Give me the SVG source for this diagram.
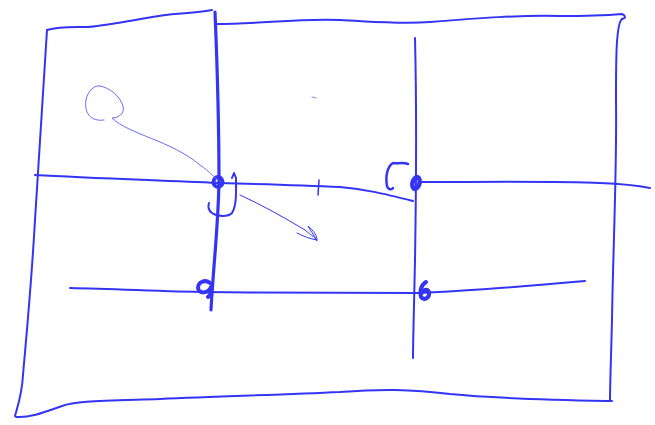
<svg xmlns="http://www.w3.org/2000/svg" width="655" height="425" viewBox="0 0 655 425">
<style>
.s{fill:none;stroke:#3434f4;stroke-linecap:round;stroke-linejoin:round}
.t{stroke-width:2}
.b{stroke-width:3.2}
.h{stroke-width:1;stroke:#6a6af6}
</style>
<rect width="655" height="425" fill="#fff"/>
<g id="frame">
<path class="s t" d="M47,30 C60,26 75,27 88,27 C120,24 150,16 175,14 C190,13 203,12 212,10"/>
<path class="s t" d="M216,24 C260,24 300,18 340,20 C380,22 400,24 430,22 C480,18 520,15 560,16 C590,16 610,15 622,14 C626,16 626,18 622,19"/>
<path class="s t" d="M622,19 C616,24 616,60 616,100 C617,170 613,250 612,320 C611,360 610,385 610,400"/>
<path class="s t" d="M612,401 C560,400 500,399 450,394 C410,389 380,389 340,392 C280,395 220,396 160,399 C100,401 75,401 62,406 C45,412 30,418 16,417"/>
<path class="s t" d="M47,30 C44,80 40,150 35,220 C31,290 26,340 23,375 C22,395 17,408 15,416"/>
</g>
<g id="grid">
<path class="s b" d="M215,12 C217,60 219,120 219,182 C218,230 213,270 211,310"/>
<path class="s t" d="M415,38 C417,120 416,200 415,260 C414,310 413,340 413,358"/>
<path class="s t" d="M35,175 C90,178 150,180 218,183 C260,184 300,185 340,187 C365,189 385,194 413,201"/>
<path class="s t" d="M420,182 C480,182 560,181 600,183 C625,184 640,186 650,188"/>
<path class="s t" d="M70,288 C120,289 170,292 205,292 C280,293 360,293 420,293 C470,291 540,285 585,281"/>
<path class="s" stroke-width="1.5" d="M319,180 L318,195"/>
</g>
<g id="marks">
<ellipse class="s" stroke-width="4" cx="218" cy="182" rx="4.5" ry="5"/>
<path class="s t" d="M232,178 L234,173 L236,178 C236,190 237,205 232,213 C228,217 218,217 212,213 C208,210 208,206 209,203"/>
<ellipse class="s" stroke-width="4.5" cx="416" cy="183" rx="3.5" ry="6" transform="rotate(15 416 183)"/>
<path class="s" stroke-width="2.5" d="M408,164 C403,162 397,164 393,163 C388,166 385,175 387,186 C388,190 392,190 393,188"/>
<path class="s" stroke-width="4" d="M210,283 C205,279 198,282 198,288 C199,294 208,294 211,287 C212,290 211,295 208,297"/>
<path class="s" stroke-width="4" d="M426,282 C421,285 419,292 421,297 C424,301 430,298 429,292 C427,288 423,290 421,294"/>
<path class="s h" d="M104,120 C90,122 84,112 86,100 C88,90 95,85 100,86 C110,88 120,96 123,106 C125,114 118,118 112,118 C130,135 170,140 200,165 C210,172 215,178 218,180"/>
<path class="s" stroke-width="1" d="M240,195 C262,205 285,218 305,230 C312,236 316,238 317,241 C314,235 310,230 308,226 C314,231 317,236 317,240 C310,239 303,236 297,233"/>
<path class="s" stroke-width="1" opacity="0.6" d="M312,97 L316,98"/>
</g>
</svg>
